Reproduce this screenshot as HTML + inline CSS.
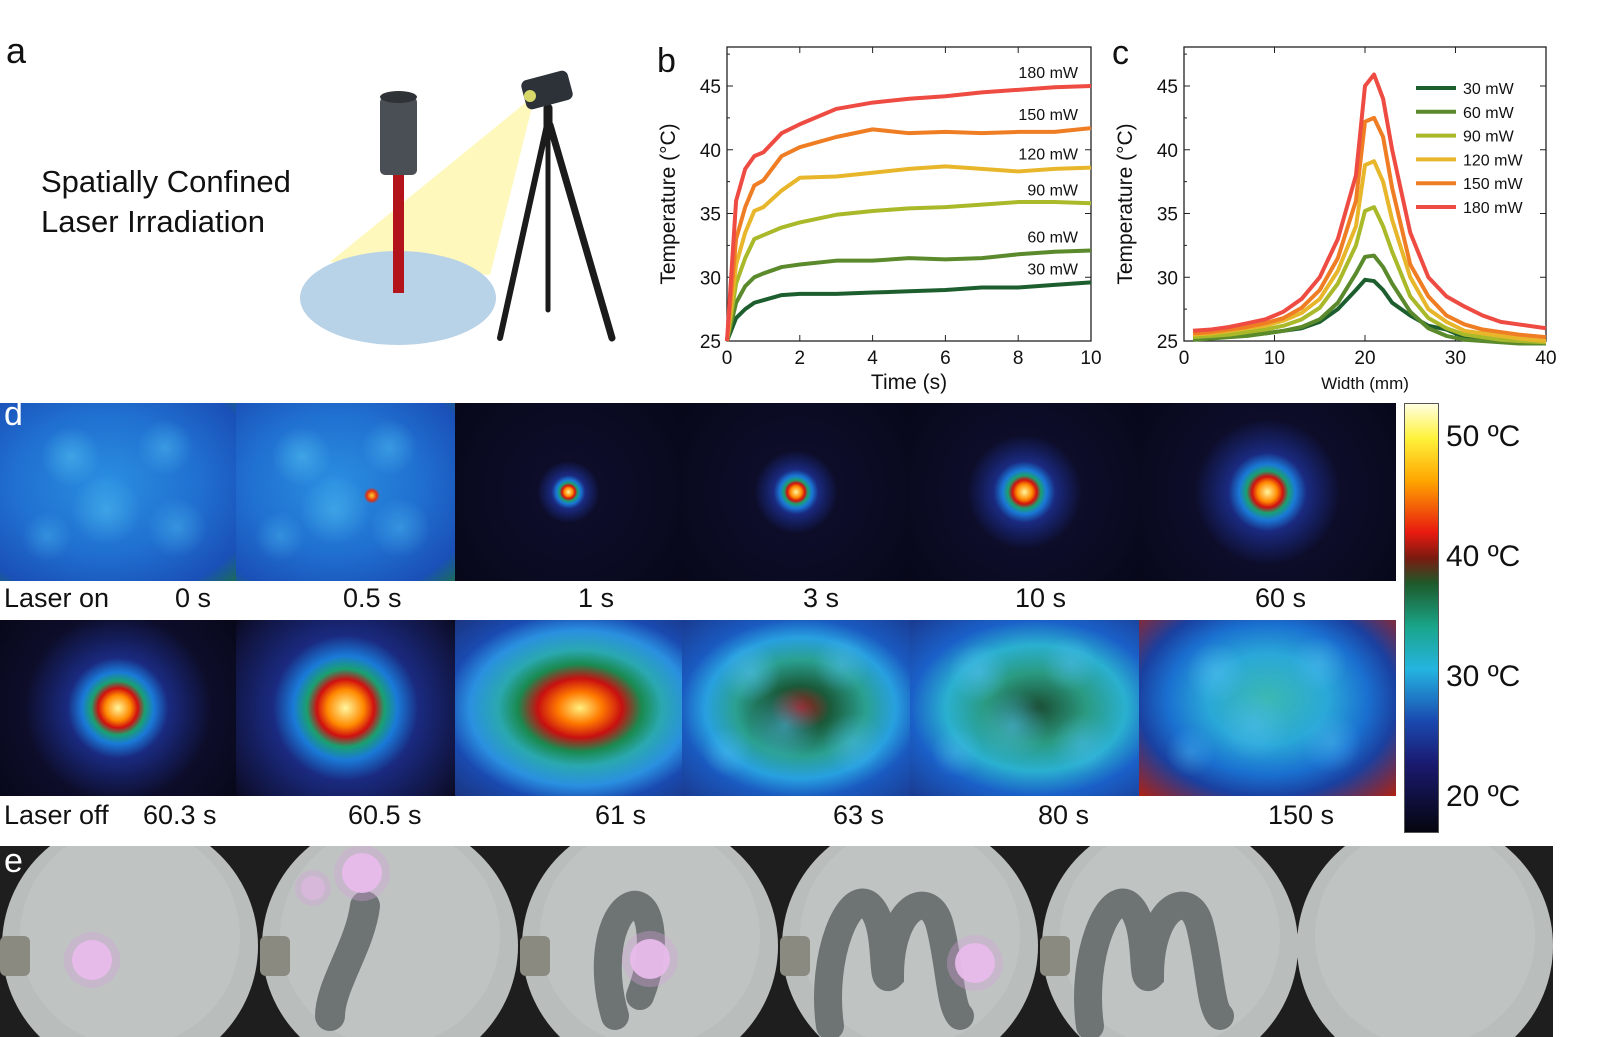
<!DOCTYPE html>
<html><head><meta charset="utf-8">
<style>
body{margin:0;background:#fff;width:1616px;height:1037px;overflow:hidden;position:relative;font-family:"Liberation Sans",sans-serif}
.abs{position:absolute}
.lbl{position:absolute;font-size:27px;color:#111;white-space:nowrap}
.th{position:absolute;overflow:hidden}
</style></head><body>
<div class="lbl" style="left:6px;top:30px;font-size:36px">a</div>
<div class="lbl" style="left:41px;top:162px;font-size:31px;line-height:40px">Spatially Confined<br>Laser Irradiation</div>
<svg class="abs" style="left:280px;top:60px" width="360" height="300" viewBox="280 60 360 300">
<polygon points="535,95 330,262 490,275" fill="#fff7b0" opacity="0.85"/>
<ellipse cx="398" cy="298" rx="98" ry="47" fill="#b8d2e8"/>
<rect x="393" y="175" width="11" height="118" fill="#b3141c"/>
<rect x="380" y="97" width="37" height="78" rx="5" fill="#4a4f55"/>
<ellipse cx="398.5" cy="97" rx="18.5" ry="6" fill="#2f3338"/>
<g stroke="#1b1b1b" stroke-linecap="round">
<line x1="547" y1="125" x2="500" y2="338" stroke-width="6"/>
<line x1="548" y1="125" x2="548" y2="310" stroke-width="5"/>
<line x1="550" y1="125" x2="612" y2="338" stroke-width="7"/>
<line x1="548" y1="108" x2="548" y2="130" stroke-width="9"/>
</g>
<rect x="523" y="75" width="48" height="30" rx="6" fill="#2c3238" transform="rotate(-15 547 90)"/>
<circle cx="530" cy="96" r="6" fill="#d8d86a"/>
</svg>

<svg class="abs" id="charts" style="left:0;top:0" width="1616" height="400"></svg>

<div id="thermal"></div>
<div class="lbl" style="left:4px;top:395px;font-size:34px;color:#fff;z-index:5">d</div>
<div class="abs" style="left:1404px;top:403px;width:33px;height:428px;border:1px solid #555;background:linear-gradient(to bottom,#ffffe0 0%,#fff23a 8%,#ffa500 18%,#e81a10 30%,#7a1a10 36%,#1d5a2a 42%,#1aa58a 52%,#24b4e0 62%,#1a4ab0 74%,#1a1a70 84%,#05050f 100%)"></div>
<div class="lbl" style="left:1446px;top:420px;font-size:30px">50 ºC</div>
<div class="lbl" style="left:1446px;top:540px;font-size:30px">40 ºC</div>
<div class="lbl" style="left:1446px;top:660px;font-size:30px">30 ºC</div>
<div class="lbl" style="left:1446px;top:780px;font-size:30px">20 ºC</div>

<div class="abs" style="left:0;top:846px;width:1553px;height:191px;background:#1e1e1e;overflow:hidden">
<svg width="1553" height="191" id="photos"></svg>
</div>
<div class="lbl" style="left:4px;top:842px;font-size:34px;color:#fff">e</div>

<script>
const NS='http://www.w3.org/2000/svg';
function mk(p,tag,attrs){const e=document.createElementNS(NS,tag);for(const k in attrs)e.setAttribute(k,attrs[k]);p.appendChild(e);return e;}
const powers=['30 mW','60 mW','90 mW','120 mW','150 mW','180 mW'];
const colors=['#1d5e2f','#5b8a2c','#a9b92a','#e8b62b','#ef7d24','#ee4b42'];
const timeS=[0,0.25,0.5,0.75,1,1.5,2,3,4,5,6,7,8,9,10];
const b30=[25,26.8,27.5,28,28.2,28.6,28.7,28.7,28.8,28.9,29,29.2,29.2,29.4,29.6];
const b60=[25,28,29.3,30,30.3,30.8,31,31.3,31.3,31.5,31.4,31.5,31.8,32,32.1];
const b90=[25,29.5,31.5,33,33.3,33.9,34.3,34.9,35.2,35.4,35.5,35.7,35.9,35.9,35.8];
const b120=[25,31,33.5,35.2,35.5,36.8,37.8,37.9,38.2,38.5,38.7,38.5,38.3,38.5,38.6];
const b150=[25,33,35.5,37.2,37.6,39.5,40.2,41,41.6,41.3,41.4,41.3,41.4,41.4,41.7];
const b180=[25,36,38.5,39.5,39.8,41.3,42,43.2,43.7,44,44.2,44.5,44.7,44.9,45];
const widthMM=[1,3,5,7,9,11,13,15,17,19,20,21,22,23,25,27,29,31,33,35,37,40];
const c30=[25.2,25.3,25.4,25.5,25.6,25.8,26,26.5,27.5,29,29.8,29.7,29,28,27,26.2,25.9,25.3,25.1,25,24.9,24.8];
const c60=[25.1,25.2,25.3,25.4,25.6,25.8,26.1,26.7,28,30.3,31.6,31.7,30.8,29.5,27.3,26,25.4,25.1,25,24.9,24.8,24.8];
const c90=[25.3,25.4,25.5,25.7,25.9,26.2,26.7,27.6,29.5,32.5,35.2,35.5,34,32,28.5,26.8,26,25.5,25.3,25.1,25,24.9];
const c120=[25.5,25.6,25.8,26,26.2,26.6,27.2,28.3,30.5,34,38.8,39.1,37.5,34.5,30,27.5,26.5,25.8,25.6,25.4,25.2,25];
const c150=[25.6,25.7,25.9,26.1,26.4,26.8,27.6,29,31.5,36,42.2,42.5,41,37,31,28.5,27,26.3,25.9,25.7,25.5,25.3];
const c180=[25.8,25.9,26.1,26.4,26.7,27.3,28.3,30,33,38,45,45.9,44,40,33.5,30,28.5,27.7,27,26.5,26.3,26];
const yTicks=[25,30,35,40,45];
const bXTicks=[0,2,4,6,8,10];
const cXTicks=[0,10,20,30,40];
const bSeries=[b30,b60,b90,b120,b150,b180];
const cSeries=[c30,c60,c90,c120,c150,c180];

const svg=document.getElementById('charts');
const Y0=341,Y1=47,yMin=25,yMax=48.06;
const y=v=>Y0-(v-yMin)/(yMax-yMin)*(Y0-Y1);
function axes(x0,x1,xmax,xt,id,xtitle,tfs){
  const g=mk(svg,'g',{});
  
  
  const x=v=>x0+v/xmax*(x1-x0);
  mk(g,'rect',{x:x0,y:Y1,width:x1-x0,height:Y0-Y1,fill:'none',stroke:'#222','stroke-width':1.3});
  yTicks.forEach(t=>{mk(g,'line',{x1:x0,x2:x0+6,y1:y(t),y2:y(t),stroke:'#222'});mk(g,'line',{x1:x1,x2:x1-6,y1:y(t),y2:y(t),stroke:'#222'});
    const tx=mk(g,'text',{x:x0-6,y:y(t)+7,'text-anchor':'end','font-size':19,fill:'#111'});tx.textContent=t;});
  for(let t=27.5;t<48;t+=5){mk(g,'line',{x1:x0,x2:x0+3,y1:y(t),y2:y(t),stroke:'#222'});}
  xt.forEach(t=>{mk(g,'line',{x1:x(t),x2:x(t),y1:Y0,y2:Y0-6,stroke:'#222'});mk(g,'line',{x1:x(t),x2:x(t),y1:Y1,y2:Y1+6,stroke:'#222'});
    const tx=mk(g,'text',{x:x(t),y:Y0+23,'text-anchor':'middle','font-size':19,fill:'#111'});tx.textContent=t;});
  const yl=mk(g,'text',{transform:`translate(${x0-52},${(Y0+Y1)/2+10}) rotate(-90)`,'text-anchor':'middle','font-size':21,fill:'#111'});yl.textContent='Temperature (°C)';
  
  const xl=mk(g,'text',{x:(x0+x1)/2,y:Y0+48,'text-anchor':'middle','font-size':tfs,fill:'#111'});xl.textContent=xtitle;
  
  return x;
}
const xb=axes(727,1091,10,bXTicks,'chart-b','Time (s)',21);
const xc=axes(1184,1546,40,cXTicks,'chart-c','Width (mm)',17);
function line(xs,vals,xf,col,name){
  const p=mk(svg,'polyline',{points:xs.map((t,i)=>xf(t)+','+y(vals[i])).join(' '),fill:'none',stroke:col,'stroke-width':4,'stroke-linejoin':'round'});
  
  
}
bSeries.forEach((s,i)=>{line(timeS,s,xb,colors[i],'time-curve-'+(i+1)*30+'mw');
  const t=mk(svg,'text',{x:1078,y:y(s[s.length-1])-8,'text-anchor':'end','font-size':16,fill:'#111'});t.textContent=powers[i];
  });
cSeries.forEach((s,i)=>line(widthMM,s,xc,colors[i],'profile-curve-'+(i+1)*30+'mw'));
powers.forEach((p,i)=>{const ly=88+23.8*i;
  const l=mk(svg,'line',{x1:1416,x2:1456,y1:ly,y2:ly,stroke:colors[i],'stroke-width':4});
  
  const t=mk(svg,'text',{x:1463,y:ly+6,'font-size':16,fill:'#111'});t.textContent=p;
  });
const bl=mk(svg,'text',{x:657,y:72,'font-size':34,fill:'#111'});bl.textContent='b';
const cl=mk(svg,'text',{x:1112,y:64,'font-size':34,fill:'#111'});cl.textContent='c';

const cols=[0,236,455,682,910,1139,1396];
const speck='radial-gradient(circle at 30% 30%,rgba(80,190,240,.6) 0,transparent 30px),radial-gradient(circle at 70% 25%,rgba(80,190,240,.5) 0,transparent 28px),radial-gradient(circle at 45% 60%,rgba(80,190,240,.55) 0,transparent 35px),radial-gradient(circle at 20% 75%,rgba(80,190,240,.4) 0,transparent 25px),radial-gradient(circle at 75% 70%,rgba(80,190,240,.45) 0,transparent 30px),';
const blueBg=speck+'radial-gradient(ellipse at 45% 45%,#2a8ee0 0%,#2070d0 50%,#1a50b8 85%,#1a6a5a 100%)';
const blueBg2='radial-gradient(circle at 62% 52%,#ffd030 0,#e03010 5px,transparent 8px),'+blueBg;
function spot(r){return `radial-gradient(circle at 50% 50%,#fff6a0 0,#ff8a00 ${r*0.35}px,#d01010 ${r*0.55}px,#1aa070 ${r*0.75}px,#1a7ad8 ${r}px,#1a2a80 ${r*1.4}px,#0d0d2a ${r*2.6}px,#08081a 100%)`;}
const row1=[blueBg,blueBg2,spot(12),spot(16),spot(22),spot(28)];
const row2=[spot(36),spot(52),`radial-gradient(ellipse at 55% 50%,#fff080 0,#ff7a00 22px,#c81010 42px,#1a8a50 62px,#2aa8b0 82px,#2a90e0 110px,#1a4ab0 135px,#1a3580 100%)`,
 speck+`radial-gradient(ellipse at 52% 50%,#a01818 0,#1a5a3a 30px,#2aa090 65px,#28a0e0 95px,#1a5ac0 120px,#1a3a90 100%)`,
 speck+`radial-gradient(ellipse at 55% 50%,#1a4a30 0,#2a9a80 50px,#2ab0d0 90px,#1a60c8 125px,#1a3a90 100%)`,
 speck+`radial-gradient(ellipse at 50% 45%,#3ab8b0 0,#2aa8d8 60px,#1a70d0 100px,#1a40a0 130px,#b02010 100%)`];
const lab1=[['Laser on',4],['0 s',175],['0.5 s',343],['1 s',578],['3 s',803],['10 s',1015],['60 s',1255]];
const lab2=[['Laser off',4],['60.3 s',143],['60.5 s',348],['61 s',595],['63 s',833],['80 s',1038],['150 s',1268]];
const th=document.getElementById('thermal');
function addRow(bgs,top,h,tag){bgs.forEach((b,i)=>{const d=document.createElement('div');d.className='th';
  d.style.cssText=`left:${cols[i]}px;top:${top}px;width:${cols[i+1]-cols[i]}px;height:${h}px;background:${b}`;
  
  
  th.appendChild(d);});}
addRow(row1,403,178,'laser-on');
addRow(row2,620,176,'laser-off');
function addLabels(arr,top,tag){arr.forEach(([t,x],i)=>{const d=document.createElement('div');d.className='lbl';d.style.left=x+'px';d.style.top=top+'px';d.textContent=t;
  
  
  th.appendChild(d);});}
addLabels(lab1,583,'laser-on');
addLabels(lab2,800,'laser-off');

const ph=document.getElementById('photos');
const centers=[130,390,650,910,1170,1425];
centers.forEach((cx,i)=>{const g=mk(ph,'g',{});
  
  
  mk(g,'circle',{cx:cx,cy:100,r:128,fill:'#b9bdbb'});
  mk(g,'circle',{cx:cx,cy:90,r:110,fill:'#c3c7c5',opacity:0.6});
  if(i<5)mk(g,'rect',{x:cx-130,y:90,width:30,height:40,rx:6,fill:'#8a8a80'});
});
const dark='#6e7473';
mk(ph,'path',{d:'M365 60 C360 100 330 140 330 170',stroke:dark,'stroke-width':30,fill:'none','stroke-linecap':'round'});
mk(ph,'path',{d:'M615 170 C600 120 610 70 630 60 C650 50 660 100 640 150',stroke:dark,'stroke-width':28,fill:'none','stroke-linecap':'round'});
[[870,2],[1130,1]].forEach(([cx])=>{mk(ph,'path',{d:`M${cx-40} 180 C${cx-50} 110 ${cx-20} 40 ${cx} 60 C${cx+20} 80 ${cx+10} 140 ${cx+20} 130 C${cx+20} 60 ${cx+60} 40 ${cx+70} 80 C${cx+80} 120 ${cx+80} 160 ${cx+90} 170`,stroke:dark,'stroke-width':28,fill:'none','stroke-linecap':'round'});});
[[92,114],[362,27],[313,42],[650,113],[975,117]].forEach(([x,yy],i)=>{mk(ph,'circle',{cx:x,cy:yy,r:i==2?12:20,fill:'#f0c8f0',opacity:i==2?0.5:0.95});mk(ph,'circle',{cx:x,cy:yy,r:i==2?18:28,fill:'#d8a0e0',opacity:0.35});});
</script>
</body></html>
